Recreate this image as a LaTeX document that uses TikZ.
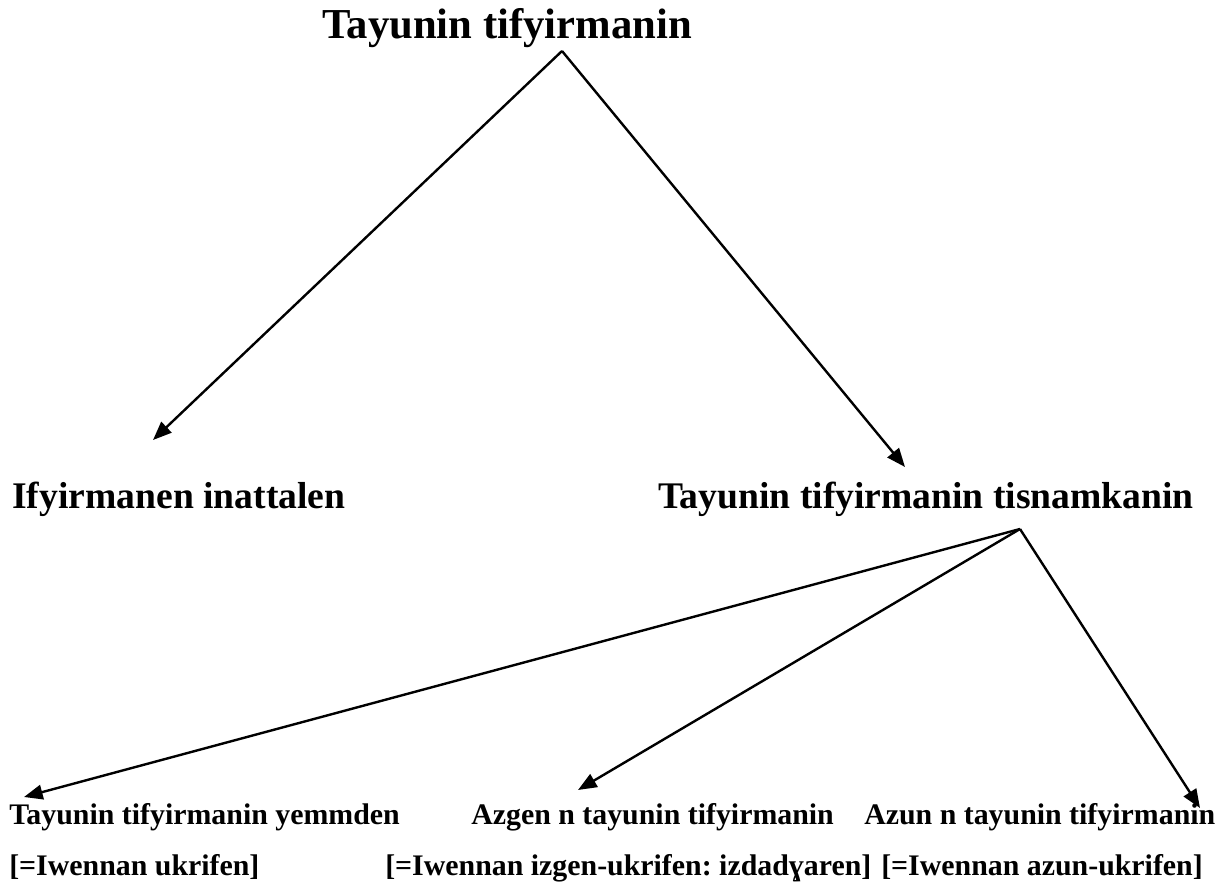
\documentclass[tikz,border=0pt]{standalone}
\usepackage{fontspec}
\setmainfont{Liberation Serif}
\usetikzlibrary{arrows.meta}
\frenchspacing
\begin{document}
\begin{tikzpicture}[x=0.75pt,y=-0.75pt,
  lbl/.style={inner sep=0pt, anchor=base west},
  ttl/.style={lbl, font=\fontsize{32}{38}\selectfont\bfseries},
  midl/.style={lbl, font=\fontsize{28.2}{33}\selectfont\bfseries},
  low/.style={lbl, font=\fontsize{22.4}{26}\selectfont\bfseries},
  arr/.style={line width=1.8pt, -{Triangle[length=14pt,width=11pt]}}]
\path[use as bounding box, fill=white] (0,0) rectangle (1222,882);

\node[ttl] (root) at (322,38) {Tayunin tifyirmanin};
\node[midl] (left) at (12,508) {Ifyirmanen inattalen};
\node[midl] (right) at (658,508) {Tayunin tifyirmanin tisnamkanin};

\node[low] (b1) at (9,824) {Tayunin tifyirmanin yemmden};
\node[low] (b1s) at (9,875) {[=Iwennan ukrifen]};
\node[low] (b2) at (471,824) {Azgen n tayunin tifyirmanin};
\node[low] (b2s) at (385,875) {[=Iwennan izgen-ukrifen: izdadɣaren]};
\node[low] (b3) at (864,824) {Azun n tayunin tifyirmanin};
\node[low] (b3s) at (881,875) {[=Iwennan azun-ukrifen]};

\coordinate (apex1) at (562,51);
\coordinate (tipL) at (153,440);
\coordinate (tipR) at (905,467);
\coordinate (apex2) at (1020,529);
\coordinate (tip1) at (24,797);
\coordinate (tip2) at (578,790);
\coordinate (tip3) at (1200,808);

\draw[arr] (apex1) -- (tipL);
\draw[arr] (apex1) -- (tipR);
\draw[arr] (apex2) -- (tip1);
\draw[arr] (apex2) -- (tip2);
\draw[arr] (apex2) -- (tip3);
\end{tikzpicture}
\end{document}
